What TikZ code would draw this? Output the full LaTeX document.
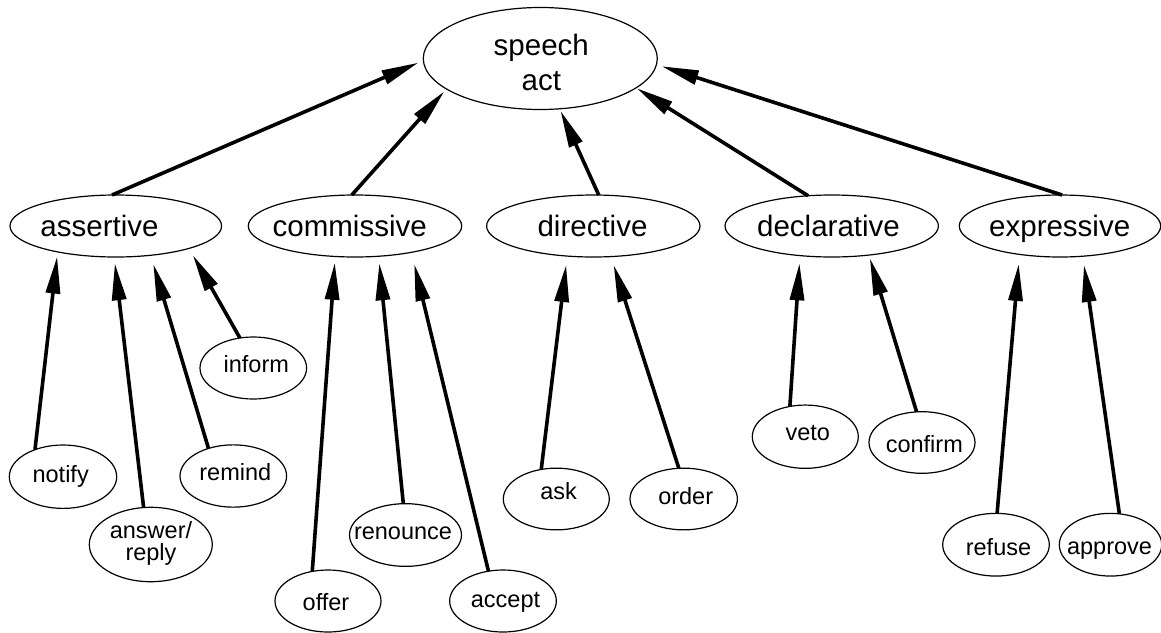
\documentclass[tikz,border=0pt]{standalone}
\usepackage{fontspec}
\setmainfont{Liberation Sans}
\usetikzlibrary{shapes.geometric,arrows.meta}
\begin{document}
\begin{tikzpicture}[x=1pt,y=-1pt,
  ell/.style={draw, ellipse, line width=1.2pt, inner sep=0pt, outer sep=0pt},
  big/.style={font=\fontsize{29.5}{35.7}\selectfont, inner sep=0pt, anchor=base, align=center},
  small/.style={font=\fontsize{23.5}{22}\selectfont, inner sep=0pt, anchor=base, align=center},
  isa/.style={line width=3.6pt, -{Triangle[length=37pt,width=14pt]}}
]
\useasboundingbox (0,0) rectangle (1161,632);

% root
\node[ell, minimum width=234pt, minimum height=102pt] (speech) at (540.3,58.5) {};
\node[big] (tspeech) at (541.3,90.7) {speech\\act};

% categories
\node[ell, minimum width=211.6pt, minimum height=62pt] (assertive)   at (115.8,226) {};
\node[ell, minimum width=213.4pt, minimum height=62pt] (commissive)  at (355,226) {};
\node[ell, minimum width=213.4pt, minimum height=62pt] (directive)   at (593.3,226) {};
\node[ell, minimum width=213.4pt, minimum height=62pt] (declarative) at (831.7,226) {};
\node[ell, minimum width=201.4pt, minimum height=62pt] (expressive)  at (1060,226) {};
\node[big] (tassertive)   at (99.5,236.5)  {assertive};
\node[big] (tcommissive)  at (349.7,236.5) {commissive};
\node[big] (tdirective)   at (592.5,236)   {directive};
\node[big] (tdeclarative) at (828.5,236)   {declarative};
\node[big] (texpressive)  at (1059.7,236)  {expressive};

% individual acts
\node[ell, minimum width=106.6pt, minimum height=62pt]   (inform)   at (253.3,368) {};
\node[ell, minimum width=107.4pt, minimum height=63.4pt] (notify)   at (63,476.7) {};
\node[ell, minimum width=106.6pt, minimum height=62.3pt] (remind)   at (233.3,476) {};
\node[ell, minimum width=123pt,   minimum height=74.4pt] (answer)   at (150.8,544.5) {};
\node[ell, minimum width=106pt,   minimum height=62pt]   (offer)    at (328,601) {};
\node[ell, minimum width=112pt,   minimum height=62.7pt] (renounce) at (405.5,535) {};
\node[ell, minimum width=106.7pt, minimum height=62pt]   (accept)   at (503,601) {};
\node[ell, minimum width=106pt,   minimum height=61.7pt] (ask)      at (556.3,499) {};
\node[ell, minimum width=107.4pt, minimum height=61.7pt] (order)    at (683.7,499) {};
\node[ell, minimum width=106pt,   minimum height=63.3pt] (veto)     at (805.3,436.7) {};
\node[ell, minimum width=106pt,   minimum height=61.6pt] (confirm)  at (922,442.5) {};
\node[ell, minimum width=106.6pt, minimum height=62.7pt] (refuse)   at (996,544.7) {};
\node[ell, minimum width=102.4pt, minimum height=62.7pt] (approve)  at (1110.5,544.7) {};

\node[small] (tinform)   at (256.3,372.5) {inform};
\node[small] (tnotify)   at (60.7,482.5)  {notify};
\node[small] (tremind)   at (235.3,480.8) {remind};
\node[small] (tanswer)   at (151,560)     {answer/\\reply};
\node[small] (toffer)    at (326,610.5)   {offer};
\node[small] (trenounce) at (403,539.8)   {renounce};
\node[small] (taccept)   at (505.5,607.3) {accept};
\node[small] (task)      at (558.7,499.8) {ask};
\node[small] (torder)    at (685.7,504)   {order};
\node[small] (tveto)     at (807.7,440.8) {veto};
\node[small] (tconfirm)  at (924.3,452.3) {confirm};
\node[small] (trefuse)   at (998.5,555.7) {refuse};
\node[small] (tapprove)  at (1109.5,554.7) {approve};

% is-a links to the root
\draw[isa, shorten >=5.5pt] (assertive.97.5)   -- (speech.181.3);
\draw[isa, shorten >=3.3pt] (commissive.96)    -- (speech.198.3);
\draw[isa, shorten >=2.3pt] (directive.80.8)   -- (speech.291.25);
\draw[isa, shorten >=1pt]   (declarative.128.9) -- (speech.343.1);
\draw[isa, shorten >=5.5pt] (expressive.86.9)  -- (speech.357.6);

% is-a links to the categories
\draw[isa, shorten >=4.7pt]  (notify.136.5)   -- (assertive.204.1);
\draw[isa, shorten >=6.3pt]  (answer.101.7)   -- (assertive.267.2);
\draw[isa, shorten >=9.3pt]  (remind.132.2)   -- (assertive.320.6);
\draw[isa, shorten >=8pt]    (inform.114.5)   -- (assertive.343.8);
\draw[isa, shorten >=6.3pt]  (offer.118.2)    -- (commissive.237.3);
\draw[isa, shorten >=7.1pt]  (renounce.94)    -- (commissive.308);
\draw[isa, shorten >=12.1pt] (accept.116.1)   -- (commissive.335.4);
\draw[isa, shorten >=9pt]    (ask.117.7)      -- (directive.229.7);
\draw[isa, shorten >=8.9pt]  (order.99)       -- (directive.300.3);
\draw[isa, shorten >=7.7pt]  (veto.117.5)     -- (declarative.223.6);
\draw[isa, shorten >=3.4pt]  (confirm.100)    -- (declarative.322.1);
\draw[isa, shorten >=9.6pt]  (refuse.88.7)    -- (expressive.215.5);
\draw[isa, shorten >=8.9pt]  (approve.74.9)   -- (expressive.307.4);
\end{tikzpicture}
\end{document}
